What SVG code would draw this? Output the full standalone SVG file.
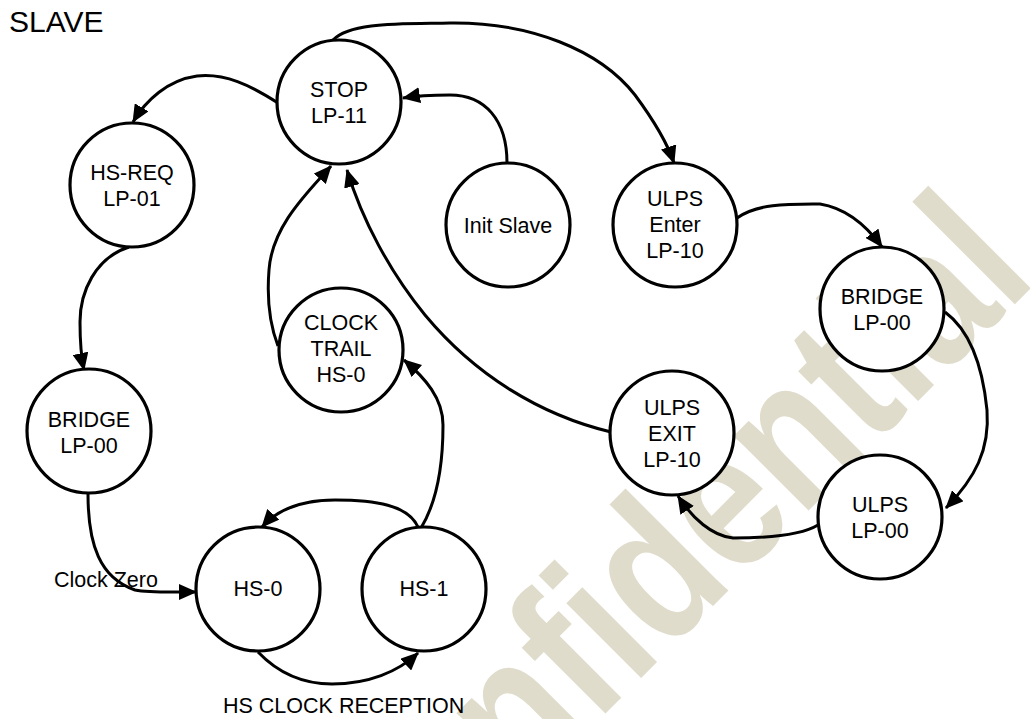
<svg xmlns="http://www.w3.org/2000/svg" width="1030" height="719" viewBox="0 0 1030 719">
<style>
.bg{fill:#fff}
.wm{fill:#e0dccc;font-family:"Liberation Sans",Arial,sans-serif;font-weight:bold;font-size:200px}
.node circle{fill:#fff;stroke:#000;stroke-width:3.2}
.node text,.lbl{font-family:"Liberation Sans",Arial,sans-serif;font-size:21.5px;fill:#000;text-anchor:middle}
.lbl{text-anchor:start}
.title{font-family:"Liberation Sans",Arial,sans-serif;font-size:30px;fill:#000}
#connectors path{fill:none;stroke:#000;stroke-width:3;marker-end:url(#ah)}
</style>
<defs>
<marker id="ah" markerUnits="userSpaceOnUse" markerWidth="18" markerHeight="16" viewBox="0 0 18 16" refX="17" refY="8" orient="auto">
<path d="M0,0 L18,8 L0,16 z" fill="#000"/>
</marker>
</defs>
<rect class="bg" x="0" y="0" width="1030" height="719"/>
<text class="wm" transform="translate(369 950) rotate(-45) scale(0.82 1)">Confidential</text>
<text class="title" x="9" y="32">SLAVE</text>
<g id="connectors">
<path d="M278,103 C250,85 225,73 197,76 C168,80 146,100 133,122"/>
<path d="M507,163 C507,120 485,95 450,95 C430,95 415,96 403,98"/>
<path d="M333,40 C350,22 400,24 450,23 C530,22 600,50 635,95 C652,118 667,142 674,163"/>
<path d="M737,218 C758,203 790,204 820,204 C845,208 866,225 882,247"/>
<path d="M945,312 C972,332 983,370 987,410 C990,450 975,478 946,508"/>
<path d="M818,525 C800,536 760,538 733,538 C712,536 692,518 678,496"/>
<path d="M611,432 C540,415 475,375 425,315 C390,272 362,220 347,170"/>
<path d="M278,346 C268,320 267,295 269,270 C272,225 310,190 331,166"/>
<path d="M421,528 C438,500 443,462 443,425 C443,398 425,378 404,360"/>
<path d="M418,527 C408,505 375,500 335,500 C300,500 277,510 262,527"/>
<path d="M258,652 C280,675 305,684 332,684 C368,684 398,672 418,653"/>
<path d="M129,247 C95,258 80,292 80,322 C80,342 81,356 84,370"/>
<path d="M88,494 C88,545 100,578 135,590 C150,593 170,592 196,592"/>
</g>
<text class="lbl" x="54" y="587">Clock Zero</text>
<text class="lbl" x="223" y="713">HS CLOCK RECEPTION</text>
<g id="stop" class="node"><circle cx="339" cy="102" r="62"/><text x="339" y="97">STOP</text><text x="339" y="123">LP-11</text></g>
<g id="hsreq" class="node"><circle cx="132" cy="185" r="62"/><text x="132" y="180">HS-REQ</text><text x="132" y="206">LP-01</text></g>
<g id="init" class="node"><circle cx="508" cy="225" r="62"/><text x="508" y="233">Init Slave</text></g>
<g id="ulpsenter" class="node"><circle cx="675" cy="225" r="62"/><text x="675" y="206">ULPS</text><text x="675" y="232">Enter</text><text x="675" y="258">LP-10</text></g>
<g id="bridge2" class="node"><circle cx="882" cy="309" r="62"/><text x="882" y="304">BRIDGE</text><text x="882" y="330">LP-00</text></g>
<g id="clocktrail" class="node"><circle cx="341" cy="350" r="62"/><text x="341" y="330">CLOCK</text><text x="341" y="356">TRAIL</text><text x="341" y="382">HS-0</text></g>
<g id="bridge1" class="node"><circle cx="89" cy="431" r="62"/><text x="89" y="427">BRIDGE</text><text x="89" y="453">LP-00</text></g>
<g id="ulpsexit" class="node"><circle cx="672" cy="433" r="62"/><text x="672" y="415">ULPS</text><text x="672" y="441">EXIT</text><text x="672" y="467">LP-10</text></g>
<g id="ulps00" class="node"><circle cx="880" cy="517" r="62"/><text x="880" y="512">ULPS</text><text x="880" y="538">LP-00</text></g>
<g id="hs0" class="node"><circle cx="258" cy="589" r="62"/><text x="258" y="596">HS-0</text></g>
<g id="hs1" class="node"><circle cx="424" cy="589" r="62"/><text x="424" y="596">HS-1</text></g>
</svg>
